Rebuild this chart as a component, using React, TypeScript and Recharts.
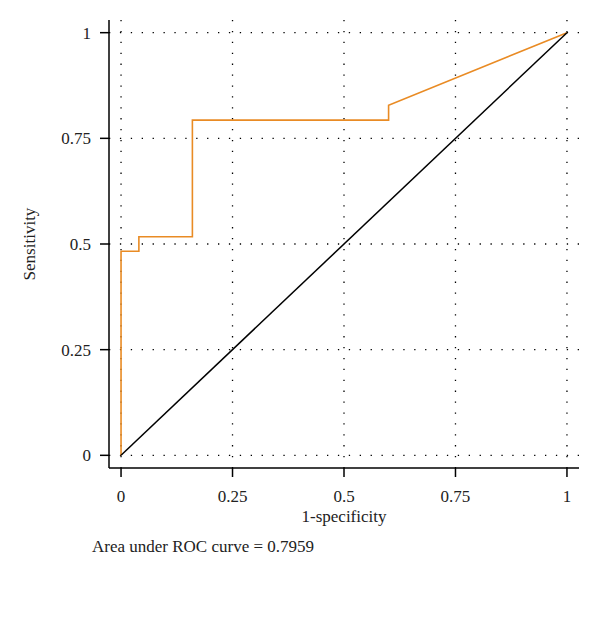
import React from "react";
import { LineChart, Line, XAxis, YAxis, CartesianGrid } from "recharts";

// ROC curve points (1-specificity, sensitivity)
const rocFpr = [0, 0, 0.04, 0.04, 0.16, 0.16, 0.6, 0.6, 1];
const rocTpr = [0, 0.483, 0.483, 0.517, 0.517, 0.793, 0.793, 0.828, 1];

// chance diagonal
const diagX = [0, 1];
const diagY = [0, 1];

const axisTicks = [0, 0.25, 0.5, 0.75, 1];
const aucLabel = "Area under ROC curve = 0.7959";

const rocData = rocFpr.map((x, i) => ({ x, y: rocTpr[i] }));
const diagData = diagX.map((x, i) => ({ x, y: diagY[i] }));

const FONT = "'Liberation Serif', 'Times New Roman', serif";
const tickStyle = { fontSize: 17, fill: "#222", fontFamily: FONT };

export default function App() {
  return (
    <div
      style={{
        position: "absolute",
        left: 0,
        top: 0,
        width: 600,
        height: 628,
        background: "#fff",
        fontFamily: FONT,
        color: "#222",
      }}
    >
      <LineChart
        width={600}
        height={628}
        margin={{ top: 20, right: 21, bottom: 100, left: 49 }}
      >
        <CartesianGrid
          stroke="#000"
          strokeWidth={1.3}
          strokeDasharray="1.3 9.6"
          horizontalValues={axisTicks}
          verticalValues={axisTicks}
        />
        <XAxis
          type="number"
          dataKey="x"
          domain={[-0.027, 1.027]}
          ticks={axisTicks}
          allowDataOverflow
          height={60}
          tick={tickStyle}
          tickSize={9}
          tickMargin={13}
          axisLine={{ stroke: "#000", strokeWidth: 1.5 }}
          tickLine={{ stroke: "#000", strokeWidth: 1.5 }}
        />
        <YAxis
          type="number"
          dataKey="y"
          domain={[-0.03, 1.03]}
          ticks={axisTicks}
          allowDataOverflow
          width={60}
          tick={tickStyle}
          tickSize={9}
          tickMargin={9}
          axisLine={{ stroke: "#000", strokeWidth: 1.5 }}
          tickLine={{ stroke: "#000", strokeWidth: 1.5 }}
        />
        <Line
          data={rocData}
          dataKey="y"
          type="linear"
          stroke="#E98B24"
          strokeWidth={1.6}
          dot={false}
          activeDot={false}
          isAnimationActive={false}
        />
        <Line
          data={diagData}
          dataKey="y"
          type="linear"
          stroke="#000"
          strokeWidth={1.5}
          dot={false}
          activeDot={false}
          isAnimationActive={false}
        />
      </LineChart>

      <div
        style={{
          position: "absolute",
          left: 244,
          width: 200,
          top: 507,
          textAlign: "center",
          fontSize: 17,
          lineHeight: "20px",
        }}
      >
        1-specificity
      </div>
      <div
        style={{
          position: "absolute",
          left: 30 - 100,
          top: 244 - 10,
          width: 200,
          textAlign: "center",
          fontSize: 17,
          lineHeight: "20px",
          transform: "rotate(-90deg)",
        }}
      >
        Sensitivity
      </div>
      <div
        style={{
          position: "absolute",
          left: 92,
          top: 537,
          fontSize: 17,
          lineHeight: "20px",
          whiteSpace: "nowrap",
        }}
      >
        {aucLabel}
      </div>
    </div>
  );
}
